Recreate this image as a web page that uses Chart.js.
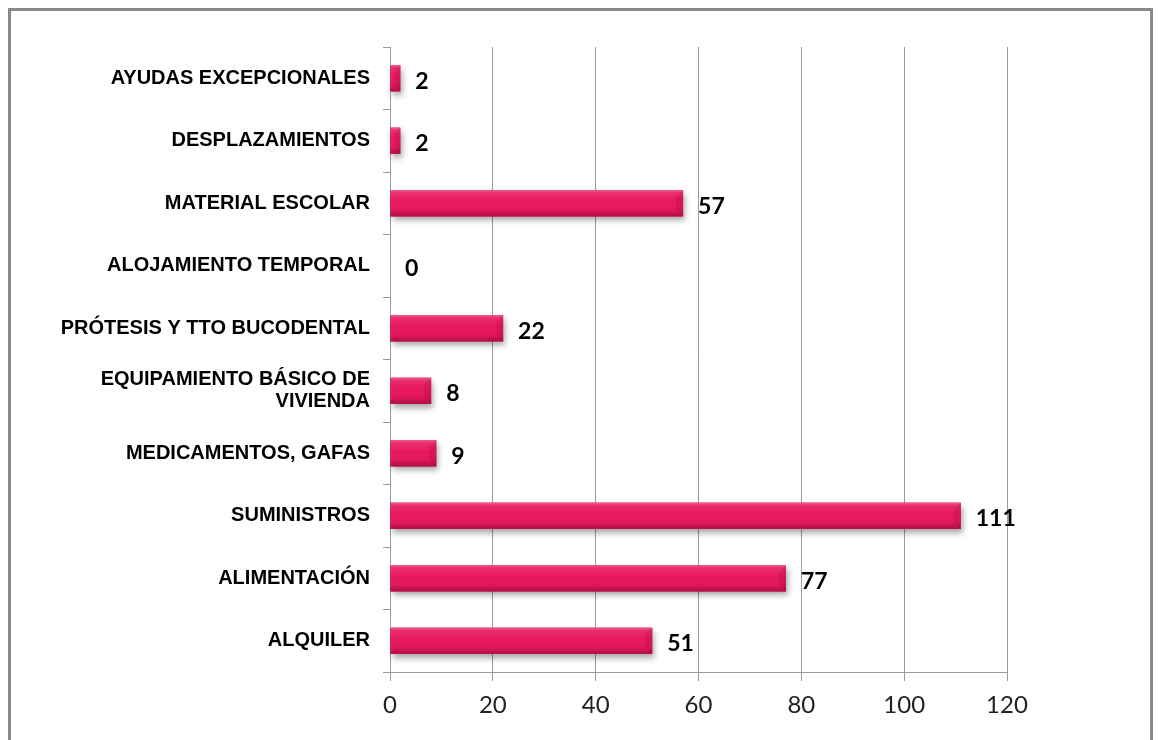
<!DOCTYPE html>
<html>
<head>
<meta charset="utf-8">
<script src="https://cdn.jsdelivr.net/npm/chart.js@4/dist/chart.umd.min.js"></script>
<style>
  html, body { margin: 0; padding: 0; background: #ffffff; width: 1158px; height: 740px; overflow: hidden; }
  #frame { position: absolute; left: 8px; top: 8px; width: 1139px; height: 760px; border: 3px solid #8a8a8a; box-sizing: content-box; }
  #wrap { position: absolute; left: 0; top: 0; width: 1158px; height: 740px; }
</style>
</head>
<body>
<div id="frame"></div>
<div id="wrap"><canvas id="c" width="1158" height="740"></canvas></div>
<script>
const categories = [
  'AYUDAS EXCEPCIONALES',
  'DESPLAZAMIENTOS',
  'MATERIAL ESCOLAR',
  'ALOJAMIENTO TEMPORAL',
  'PRÓTESIS Y TTO BUCODENTAL',
  ['EQUIPAMIENTO BÁSICO DE', 'VIVIENDA'],
  'MEDICAMENTOS, GAFAS',
  'SUMINISTROS',
  'ALIMENTACIÓN',
  'ALQUILER'
];
const values = [2, 2, 57, 0, 22, 8, 9, 111, 77, 51];
const xMin = 0;
const xMax = 120;
const xStep = 20;

const barStyle = {
  id: 'barStyle',
  beforeDatasetsDraw(chart) {
    const ctx = chart.ctx;
    const meta = chart.getDatasetMeta(0);
    ctx.save();
    meta.data.forEach(el => {
      const w = el.x - el.base;
      if (w <= 0.5) return;
      const h = el.height;
      ctx.shadowColor = 'rgba(0,0,0,0.35)';
      ctx.shadowBlur = 6;
      ctx.shadowOffsetX = 2;
      ctx.shadowOffsetY = 4;
      ctx.fillStyle = '#c01048';
      ctx.fillRect(el.base, el.y - h / 2, w, h);
    });
    ctx.restore();
  },
  afterDatasetsDraw(chart) {
    const ctx = chart.ctx;
    const meta = chart.getDatasetMeta(0);
    ctx.save();
    meta.data.forEach((el, i) => {
      const w = el.x - el.base;
      const h = el.height;
      const top = el.y - h / 2;
      if (w > 0.5) {
        const g = ctx.createLinearGradient(0, top, 0, top + h);
        g.addColorStop(0, 'rgba(255,255,255,0.32)');
        g.addColorStop(0.1, 'rgba(255,255,255,0.10)');
        g.addColorStop(0.45, 'rgba(255,255,255,0)');
        g.addColorStop(0.8, 'rgba(0,0,0,0.05)');
        g.addColorStop(1, 'rgba(70,0,20,0.35)');
        ctx.fillStyle = g;
        ctx.fillRect(el.base, top, w, h);
        const bw = Math.min(7, w / 2);
        ctx.fillStyle = 'rgba(120,0,30,0.15)';
        ctx.beginPath();
        ctx.moveTo(el.x, top);
        ctx.lineTo(el.x - bw, top + bw);
        ctx.lineTo(el.x - bw, top + h - bw);
        ctx.lineTo(el.x, top + h);
        ctx.closePath();
        ctx.fill();
      }
      ctx.fillStyle = '#000000';
      ctx.font = 'bold 23px Lato, "Open Sans", sans-serif';
      ctx.textAlign = 'left';
      ctx.textBaseline = 'middle';
      ctx.fillText(String(values[i]), el.x + 15, el.y + 3);
    });
    ctx.restore();
  }
};

new Chart(document.getElementById('c'), {
  type: 'bar',
  data: {
    labels: categories,
    datasets: [{
      data: values,
      backgroundColor: '#e8175d',
      borderWidth: 0,
      barPercentage: 0.42,
      categoryPercentage: 1.0
    }]
  },
  options: {
    indexAxis: 'y',
    responsive: false,
    animation: false,
    events: [],
    layout: { padding: { left: 0, right: 151, top: 47, bottom: 0 } },
    plugins: { legend: { display: false }, tooltip: { enabled: false } },
    scales: {
      x: {
        min: xMin,
        max: xMax,
        ticks: {
          stepSize: xStep,
          color: '#222222',
          font: { family: 'Lato, "Open Sans", sans-serif', size: 24 },
          padding: 10
        },
        grid: { color: '#9a9a9a', lineWidth: 1, tickLength: 9, drawTicks: true },
        border: { color: '#9a9a9a', width: 1 },
        afterFit(scale) { scale.height = 68; }
      },
      y: {
        ticks: {
          color: '#000000',
          font: { family: '"Liberation Sans", Arial, sans-serif', size: 20, weight: 'bold', lineHeight: 1.1 },
          padding: 13,
          autoSkip: false
        },
        grid: { drawOnChartArea: false, drawTicks: true, tickLength: 7, color: '#9a9a9a', offset: true },
        border: { color: '#9a9a9a', width: 1 },
        afterFit(scale) { scale.width = 390; }
      }
    }
  },
  plugins: [barStyle]
});
</script>
</body>
</html>
